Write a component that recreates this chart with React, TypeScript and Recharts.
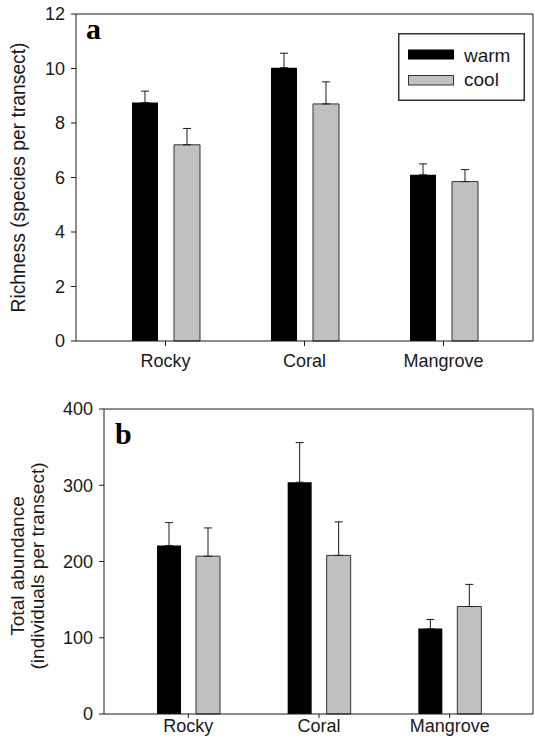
import { Bar, BarChart, ErrorBar, Legend, ReferenceLine, XAxis, YAxis } from "recharts";

const categories = ["Rocky", "Coral", "Mangrove"];

const richWarm = [8.75, 10.03, 6.1];
const richWarmErr = [0.42, 0.53, 0.4];
const richCool = [7.2, 8.7, 5.85];
const richCoolErr = [0.6, 0.81, 0.44];

const abundWarm = [221, 304, 112];
const abundWarmErr = [30, 52, 12];
const abundCool = [207, 208, 141];
const abundCoolErr = [37, 44, 29];

const richTicks = [0, 2, 4, 6, 8, 10, 12];
const abundTicks = [0, 100, 200, 300, 400];

const richData = categories.map((name, i) => ({
  name,
  warm: richWarm[i],
  warmErr: [0, richWarmErr[i]],
  cool: richCool[i],
  coolErr: [0, richCoolErr[i]],
}));

const abundData = categories.map((name, i) => ({
  name,
  warm: abundWarm[i],
  warmErr: [0, abundWarmErr[i]],
  cool: abundCool[i],
  coolErr: [0, abundCoolErr[i]],
}));

const FONT = "'Liberation Sans', Arial, sans-serif";
const INK = "#1a1a1a";
const GRAY = "#c0c0c0";
const tick = { fill: INK, fontSize: 18, fontFamily: FONT };

function LegendBox() {
  return (
    <svg width={127} height={68} style={{ display: "block" }}>
      <rect x={0.75} y={0.75} width={125.5} height={66.5} fill="#fff" stroke="#333" strokeWidth={1.5} />
      <rect x={10} y={16.5} width={46} height={10} fill="#000" />
      <rect x={10.5} y={42.5} width={45} height={9.5} fill={GRAY} stroke="#333" />
      <text x={66} y={28.5} fontSize={19} fontFamily={FONT} fill={INK}>warm</text>
      <text x={66} y={53} fontSize={19} fontFamily={FONT} fill={INK}>cool</text>
    </svg>
  );
}

export default function App() {
  return (
    <div style={{ position: "absolute", left: 0, top: 0, width: 535, height: 739, background: "#fff", overflow: "hidden" }}>
      <div style={{ position: "absolute", left: 0, top: 0 }}>
        <BarChart width={535} height={375} data={richData} margin={{ top: 14, right: 1, bottom: 0, left: 0 }} barSize={26} barGap={16}>
          <XAxis dataKey="name" height={34} padding={{ left: 20, right: 20 }} stroke={INK} tick={tick} tickSize={5} tickMargin={8} />
          <YAxis width={76} domain={[0, 12]} ticks={richTicks} stroke={INK} tick={tick} tickSize={5} tickMargin={6} />
          <YAxis yAxisId="frame" orientation="right" width={1} domain={[0, 12]} tick={false} stroke={INK} />
          <ReferenceLine y={12} stroke={INK} />
          <Legend layout="horizontal" align="center" verticalAlign="middle" wrapperStyle={{ left: 398, top: 33, width: 127, height: 68 }} content={() => <LegendBox />} />
          <Bar dataKey="warm" name="warm" fill="#000" isAnimationActive={false}>
            <ErrorBar dataKey="warmErr" width={4} stroke={INK} strokeWidth={1} isAnimationActive={false} />
          </Bar>
          <Bar dataKey="cool" name="cool" fill={GRAY} stroke="#333" strokeWidth={1} isAnimationActive={false}>
            <ErrorBar dataKey="coolErr" width={4} stroke={INK} strokeWidth={1} isAnimationActive={false} />
          </Bar>
        </BarChart>
      </div>
      <div style={{ position: "absolute", left: 0, top: 370 }}>
        <BarChart width={535} height={369} data={abundData} margin={{ top: 39, right: 1, bottom: 0, left: 0 }} barSize={24} barGap={15}>
          <XAxis dataKey="name" height={25} padding={{ left: 19, right: 18 }} stroke={INK} tick={tick} tickSize={4} tickMargin={1} />
          <YAxis width={104} domain={[0, 400]} ticks={abundTicks} stroke={INK} tick={tick} tickSize={5} tickMargin={6} />
          <YAxis yAxisId="frame" orientation="right" width={1} domain={[0, 400]} tick={false} stroke={INK} />
          <ReferenceLine y={400} stroke={INK} />
          <Bar dataKey="warm" name="warm" fill="#000" isAnimationActive={false}>
            <ErrorBar dataKey="warmErr" width={4} stroke={INK} strokeWidth={1} isAnimationActive={false} />
          </Bar>
          <Bar dataKey="cool" name="cool" fill={GRAY} stroke="#333" strokeWidth={1} isAnimationActive={false}>
            <ErrorBar dataKey="coolErr" width={4} stroke={INK} strokeWidth={1} isAnimationActive={false} />
          </Bar>
        </BarChart>
      </div>
      <svg width={535} height={739} style={{ position: "absolute", left: 0, top: 0, pointerEvents: "none" }}>
        <text x={25} y={177.5} transform="rotate(-90 25 177.5)" textAnchor="middle" fontSize={19.3} fontFamily={FONT} fill={INK}>
          Richness (species per transect)
        </text>
        <text x={24} y={566} transform="rotate(-90 24 566)" textAnchor="middle" fontSize={19} fontFamily={FONT} fill={INK}>
          Total abundance
        </text>
        <text x={44} y={566} transform="rotate(-90 44 566)" textAnchor="middle" fontSize={19} fontFamily={FONT} fill={INK}>
          (individuals per transect)
        </text>
        <text x={86} y={39} fontSize={30} fontWeight="bold" fontFamily="'Liberation Serif', 'Times New Roman', serif" fill="#000">a</text>
        <text x={115} y={444} fontSize={30} fontWeight="bold" fontFamily="'Liberation Serif', 'Times New Roman', serif" fill="#000">b</text>
      </svg>
    </div>
  );
}
